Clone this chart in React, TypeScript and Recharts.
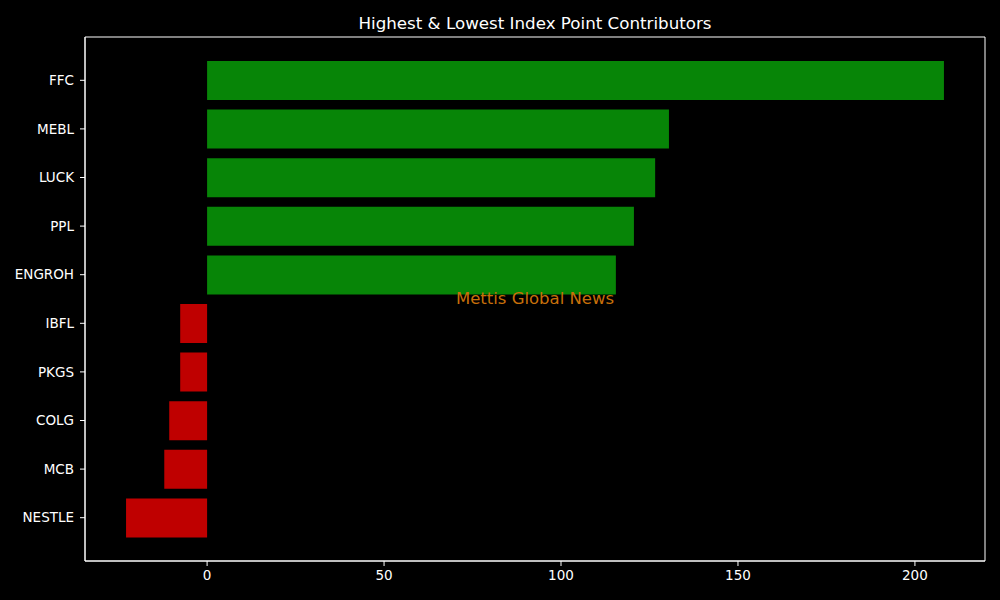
import { BarChart, Bar, XAxis, YAxis, Cell, CartesianGrid } from 'recharts';

const tickers = ['FFC', 'MEBL', 'LUCK', 'PPL', 'ENGROH', 'IBFL', 'PKGS', 'COLG', 'MCB', 'NESTLE'];
const points = [208.2, 130.5, 126.6, 120.6, 115.5, -7.6, -7.6, -10.7, -12.1, -22.9];
const xTicks = [0, 50, 100, 150, 200];
const xDomain: [number, number] = [-34.5, 219.8];

const data = tickers.map((name, i) => ({ name, value: points[i] }));

const font = 'DejaVu Sans, sans-serif';
const tickStyle = { fontSize: 13.5, fill: '#ffffff', fontFamily: font };

// the grid is only used to draw the box round the plot area
const frameRows = ({ offset }: any) => [offset.top, offset.top + offset.height];
const frameCols = ({ offset }: any) => [offset.left, offset.left + offset.width];

export default function App() {
  return (
    <div style={{ position: 'absolute', left: 0, top: 0, width: 1000, height: 600, background: '#000000' }}>
      <BarChart
        width={1000}
        height={600}
        data={data}
        layout="vertical"
        margin={{ top: 37, right: 15, bottom: 0, left: 0 }}
      >
        <CartesianGrid
          stroke="#ffffff"
          strokeDasharray="0"
          horizontalCoordinatesGenerator={frameRows}
          verticalCoordinatesGenerator={frameCols}
        />
        <XAxis
          type="number"
          domain={xDomain}
          ticks={xTicks}
          allowDataOverflow
          height={39}
          tick={tickStyle}
          tickSize={5}
          tickMargin={4}
          stroke="#ffffff"
        />
        <YAxis
          type="category"
          dataKey="name"
          width={85}
          padding={{ top: 19, bottom: 19 }}
          tick={tickStyle}
          tickSize={5}
          tickMargin={6}
          stroke="#ffffff"
          interval={0}
        />
        <Bar dataKey="value" barSize={39} isAnimationActive={false}>
          {data.map((d) => (
            <Cell key={d.name} fill={d.value >= 0 ? '#078507' : '#bf0000'} />
          ))}
        </Bar>
      </BarChart>
      <svg
        width={1000}
        height={600}
        style={{ position: 'absolute', left: 0, top: 0, pointerEvents: 'none' }}
      >
        <text x={535} y={29} textAnchor="middle" fill="#ffffff" fontSize={16.7} fontFamily={font}>
          Highest &amp; Lowest Index Point Contributors
        </text>
        <text x={535} y={304} textAnchor="middle" fill="#c8700a" fontSize={16.5} fontFamily={font}>
          Mettis Global News
        </text>
      </svg>
    </div>
  );
}
